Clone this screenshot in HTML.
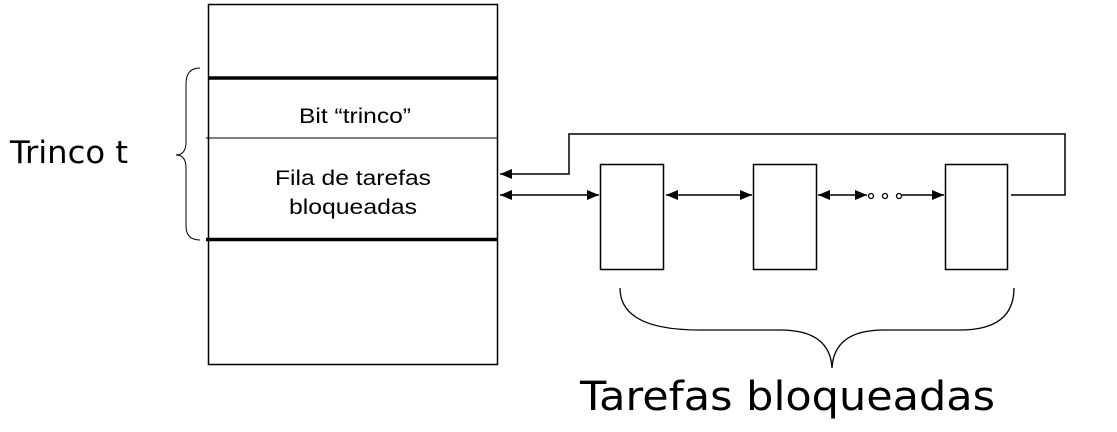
<!DOCTYPE html>
<html><head><meta charset="utf-8"><style>
html,body{margin:0;padding:0;background:#fff;}
svg{display:block;}
</style></head><body>
<svg width="1117" height="432" viewBox="0 0 1117 432" xmlns="http://www.w3.org/2000/svg">
<defs>
<marker id="a" markerWidth="12" markerHeight="10" refX="12" refY="5" orient="auto-start-reverse" markerUnits="userSpaceOnUse">
<path d="M0,0 L12,5 L0,10 z" fill="#000"/></marker>
</defs>
<g fill="none" stroke="#000">
<rect x="208.5" y="4.5" width="289" height="360" stroke-width="1.5"/>
<line x1="208" y1="78" x2="498" y2="78" stroke-width="3.5"/>
<line x1="206" y1="239.5" x2="498" y2="239.5" stroke-width="3.5"/>
<line x1="206" y1="138" x2="498" y2="138" stroke-width="1"/>
<path d="M200,68 Q186,68 186,84 L186,142 Q186,155 176,155 Q186,155 186,168 L186,226 Q186,240 200,240" stroke-width="1"/>
<rect x="600.5" y="164.5" width="63" height="105" stroke-width="1.5"/>
<rect x="753.5" y="164.5" width="63" height="105" stroke-width="1.5"/>
<rect x="945.5" y="164.5" width="62" height="105" stroke-width="1.5"/>
<polyline points="1011,195 1065,195 1065,134 569,134 569,174 500,174" stroke-width="1.5" marker-end="url(#a)"/>
<line x1="500" y1="195" x2="599" y2="195" stroke-width="1.5" marker-start="url(#a)" marker-end="url(#a)"/>
<line x1="666" y1="195" x2="752" y2="195" stroke-width="1.5" marker-start="url(#a)" marker-end="url(#a)"/>
<line x1="818" y1="195" x2="867" y2="195" stroke-width="1.5" marker-start="url(#a)" marker-end="url(#a)"/>
<circle cx="871" cy="196" r="2.5" stroke-width="1.3"/>
<circle cx="885" cy="196" r="2.5" stroke-width="1.3"/>
<circle cx="899" cy="196" r="2.5" stroke-width="1.3"/>
<line x1="902" y1="195" x2="944" y2="195" stroke-width="1.5" marker-end="url(#a)"/>
<path d="M620,288 Q620,330 700,330 L780,330 Q830,330 832,368 Q834,330 884,330 L960,330 Q1014,330 1014,288" stroke-width="1.3"/>
</g>
<g font-family="Liberation Sans, Arial, sans-serif" font-size="21" text-anchor="middle" fill="#000">
<text x="355" y="123" textLength="112" lengthAdjust="spacingAndGlyphs">Bit “trinco”</text>
<text x="353" y="185" textLength="156" lengthAdjust="spacingAndGlyphs">Fila de tarefas</text>
<text x="353" y="214" textLength="128" lengthAdjust="spacingAndGlyphs">bloqueadas</text>
</g>
<text x="10" y="163" font-family="DejaVu Sans, Verdana, sans-serif" font-size="31" fill="#000" textLength="118" lengthAdjust="spacingAndGlyphs">Trinco t</text>
<text x="580" y="410" font-family="DejaVu Sans, Verdana, sans-serif" font-size="40" fill="#000" textLength="415" lengthAdjust="spacingAndGlyphs">Tarefas bloqueadas</text>
</svg>
</body></html>
